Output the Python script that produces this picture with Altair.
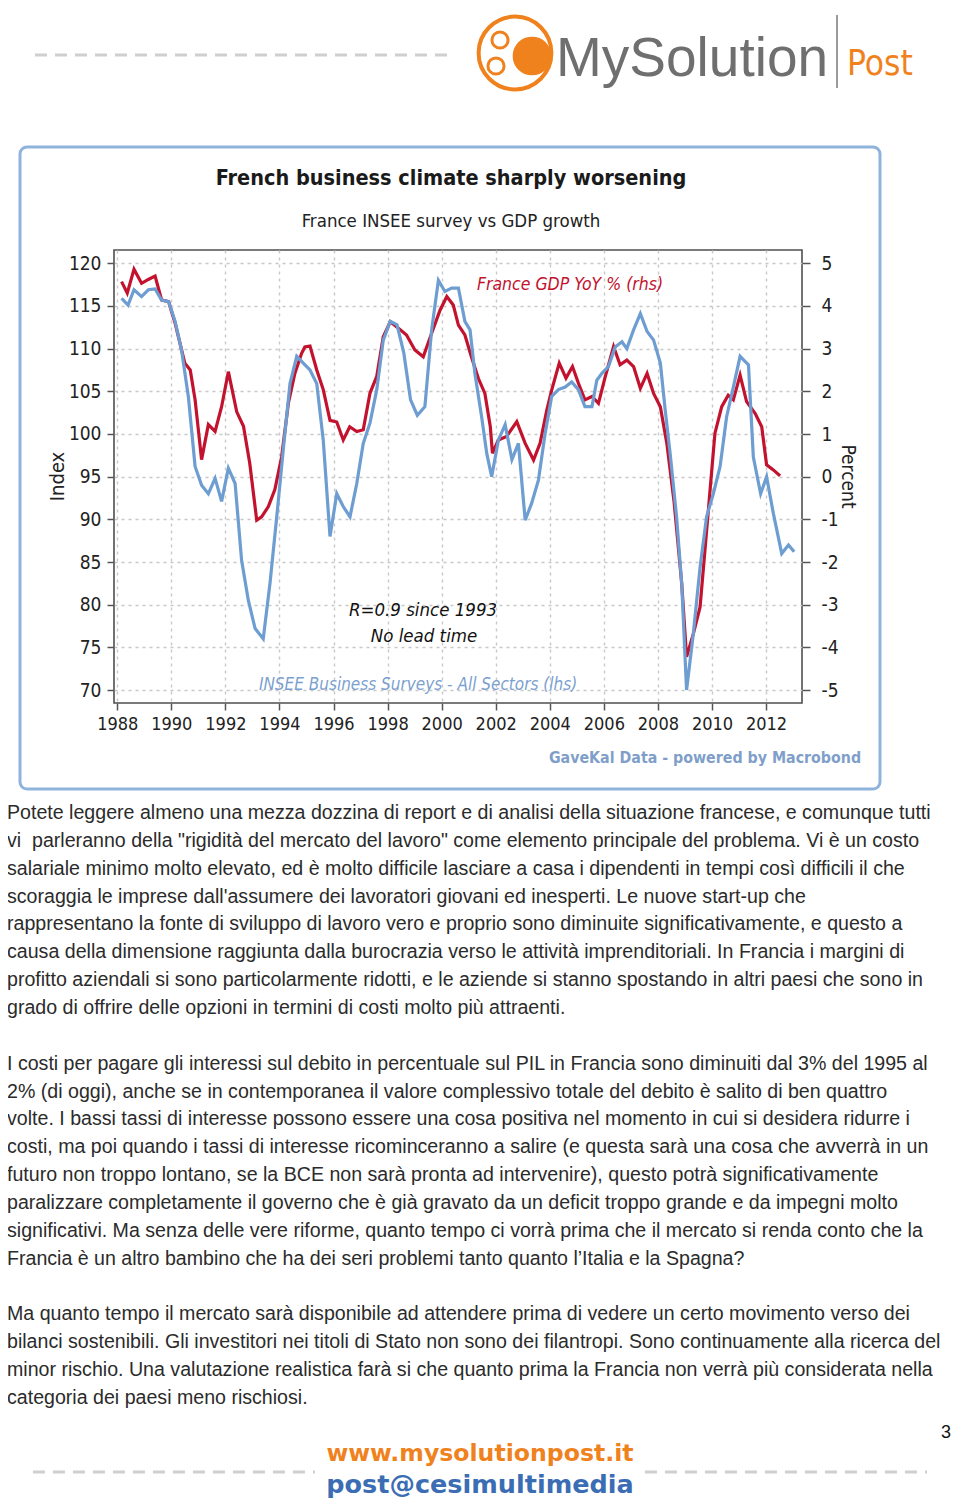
import altair as alt
import pandas as pd

# ---------------- data ----------------
insee_year = [1988.16, 1988.40, 1988.62, 1988.90, 1989.15, 1989.40, 1989.64, 1989.90,
              1990.14, 1990.38, 1990.63, 1990.88, 1991.12, 1991.37, 1991.62, 1991.86,
              1992.11, 1992.36, 1992.60, 1992.85, 1993.10, 1993.40, 1993.65, 1993.90,
              1994.14, 1994.39, 1994.64, 1994.88, 1995.13, 1995.38, 1995.62, 1995.87,
              1996.12, 1996.36, 1996.61, 1996.86, 1997.10, 1997.35, 1997.60, 1997.84,
              1998.10, 1998.35, 1998.60, 1998.85, 1999.10, 1999.38, 1999.63, 1999.88,
              2000.12, 2000.37, 2000.62, 2000.86, 2001.05, 2001.23, 2001.48, 2001.67,
              2001.85, 2002.10, 2002.35, 2002.60, 2002.84, 2003.09, 2003.33, 2003.58,
              2003.83, 2004.07, 2004.32, 2004.57, 2004.81, 2005.06, 2005.30, 2005.56,
              2005.74, 2005.93, 2006.17, 2006.42, 2006.67, 2006.85, 2007.10, 2007.35,
              2007.60, 2007.84, 2008.09, 2008.27, 2008.46, 2008.69, 2008.88, 2009.06,
              2009.31, 2009.56, 2009.80, 2010.05, 2010.30, 2010.54, 2010.79, 2011.04,
              2011.35, 2011.53, 2011.80, 2012.02, 2012.27, 2012.58, 2012.83, 2013.04]
insee_value = [115.9, 115.1, 116.9, 116.1, 116.9, 117.0, 115.7, 115.5,
               113.2, 109.8, 104.4, 96.2, 94.0, 93.0, 94.8, 92.1,
               96.0, 94.2, 85.2, 80.5, 77.2, 76.0, 82.5, 90.3,
               98.1, 105.9, 109.1, 108.3, 107.5, 105.9, 99.3, 88.0,
               93.0, 91.5, 90.3, 94.2, 98.9, 101.3, 105.2, 111.0,
               113.2, 112.8, 109.5, 104.0, 102.2, 103.2, 112.2, 118.0,
               116.7, 117.1, 117.1, 113.2, 112.2, 107.1, 102.0, 97.7,
               95.0, 99.3, 101.1, 97.0, 98.9, 89.9, 91.9, 94.6,
               100.1, 104.4, 105.2, 105.5, 106.1, 105.2, 103.2, 103.2,
               106.3, 107.1, 107.9, 110.2, 110.8, 110.0, 112.2, 114.1,
               112.0, 111.0, 108.3, 102.8, 97.5, 90.3, 82.5, 70.0,
               76.6, 84.4, 90.3, 93.0, 96.2, 102.0, 105.5, 109.1,
               108.1, 97.3, 93.0, 95.0, 90.7, 86.0, 87.0, 86.2]

gdp_year = [1988.16, 1988.37, 1988.62, 1988.90, 1989.15, 1989.40, 1989.64, 1989.90,
            1990.14, 1990.38, 1990.50, 1990.70, 1990.88, 1991.12, 1991.37, 1991.62,
            1991.86, 1992.11, 1992.42, 1992.67, 1992.90, 1993.16, 1993.34, 1993.59,
            1993.83, 1994.08, 1994.33, 1994.57, 1994.82, 1994.94, 1995.13, 1995.38,
            1995.62, 1995.87, 1996.12, 1996.36, 1996.60, 1996.86, 1997.10, 1997.35,
            1997.60, 1997.84, 1998.10, 1998.40, 1998.70, 1999.01, 1999.32, 1999.63,
            1999.94, 2000.19, 2000.43, 2000.62, 2000.86, 2001.10, 2001.36, 2001.60,
            2001.80, 2001.88, 2002.10, 2002.40, 2002.78, 2003.09, 2003.40, 2003.64,
            2003.89, 2004.07, 2004.35, 2004.60, 2004.84, 2005.06, 2005.30, 2005.56,
            2005.80, 2006.05, 2006.36, 2006.60, 2006.85, 2007.10, 2007.35, 2007.60,
            2007.84, 2008.09, 2008.33, 2008.60, 2008.88, 2009.06, 2009.31, 2009.56,
            2009.74, 2009.93, 2010.11, 2010.36, 2010.60, 2010.79, 2011.04, 2011.28,
            2011.60, 2011.84, 2012.02, 2012.27, 2012.52]
gdp_value = [4.57, 4.30, 4.86, 4.53, 4.62, 4.70, 4.14, 4.10,
             3.60, 2.97, 2.66, 2.50, 1.80, 0.40, 1.22, 1.06,
             1.64, 2.46, 1.52, 1.18, 0.32, -1.02, -0.94, -0.70,
             -0.30, 0.46, 1.72, 2.42, 2.89, 3.04, 3.06, 2.50,
             2.04, 1.32, 1.28, 0.86, 1.17, 1.06, 1.10, 1.96,
             2.35, 3.28, 3.63, 3.48, 3.32, 2.97, 2.81, 3.36,
             3.90, 4.22, 4.02, 3.55, 3.32, 2.81, 2.30, 1.95,
             1.17, 0.55, 0.86, 0.94, 1.29, 0.78, 0.39, 0.78,
             1.56, 2.03, 2.66, 2.31, 2.58, 2.19, 1.80, 1.88,
             1.72, 2.34, 3.05, 2.62, 2.73, 2.58, 2.07, 2.42,
             1.95, 1.64, 0.78, -0.60, -2.50, -4.22, -3.68, -3.05,
             -1.72, -0.31, 1.02, 1.64, 1.91, 1.80, 2.38, 1.76,
             1.48, 1.17, 0.28, 0.16, 0.02]

year_ticks = list(range(1988, 2013, 2))
index_ticks = list(range(70, 121, 5))
percent_ticks = list(range(-5, 6, 1))

chart_title = "French business climate sharply worsening"
chart_subtitle = "France INSEE survey vs GDP growth"
label_gdp = "France GDP YoY % (rhs)"
label_r = "R=0.9 since 1993"
label_lead = "No lead time"
label_insee = "INSEE Business Surveys - All Sectors (lhs)"
label_source = "GaveKal Data - powered by Macrobond"

para1 = [
    "Potete leggere almeno una mezza dozzina di report e di analisi della situazione francese, e comunque tutti",
    "vi\u00a0 parleranno della \"rigidità del mercato del lavoro\" come elemento principale del problema. Vi è un costo",
    "salariale minimo molto elevato, ed è molto difficile lasciare a casa i dipendenti in tempi così difficili il che",
    "scoraggia le imprese dall'assumere dei lavoratori giovani ed inesperti. Le nuove start-up che",
    "rappresentano la fonte di sviluppo di lavoro vero e proprio sono diminuite significativamente, e questo a",
    "causa della dimensione raggiunta dalla burocrazia verso le attività imprenditoriali. In Francia i margini di",
    "profitto aziendali si sono particolarmente ridotti, e le aziende si stanno spostando in altri paesi che sono in",
    "grado di offrire delle opzioni in termini di costi molto più attraenti.",
]
para2 = [
    "I costi per pagare gli interessi sul debito in percentuale sul PIL in Francia sono diminuiti dal 3% del 1995 al",
    "2% (di oggi), anche se in contemporanea il valore complessivo totale del debito è salito di ben quattro",
    "volte. I bassi tassi di interesse possono essere una cosa positiva nel momento in cui si desidera ridurre i",
    "costi, ma poi quando i tassi di interesse ricominceranno a salire (e questa sarà una cosa che avverrà in un",
    "futuro non troppo lontano, se la BCE non sarà pronta ad intervenire), questo potrà significativamente",
    "paralizzare completamente il governo che è già gravato da un deficit troppo grande e da impegni molto",
    "significativi. Ma senza delle vere riforme, quanto tempo ci vorrà prima che il mercato si renda conto che la",
    "Francia è un altro bambino che ha dei seri problemi tanto quanto l’Italia e la Spagna?",
]
para3 = [
    "Ma quanto tempo il mercato sarà disponibile ad attendere prima di vedere un certo movimento verso dei",
    "bilanci sostenibili. Gli investitori nei titoli di Stato non sono dei filantropi. Sono continuamente alla ricerca del",
    "minor rischio. Una valutazione realistica farà si che quanto prima la Francia non verrà più considerata nella",
    "categoria dei paesi meno rischiosi.",
]
brand = "MySolution"
brand_post = "Post"
footer_web = "www.mysolutionpost.it"
footer_mail = "post@cesimultimedia"
page_number = "3"

# ---------------- layout ----------------
OX, OY = 114, 250          # page position of plot origin
W, H = 688, 453            # plot area
TOTAL_H = 1493
CF = "DejaVu Sans Condensed, Liberation Sans Narrow, sans-serif"
BF = "Liberation Sans, Arial, sans-serif"
RED = "#c3122e"
BLUE = "#6d9dd1"
ORANGE = "#f0821e"


def T(text, X, Y, size, color="#222", weight="normal", style="normal",
      align="center", font=CF, baseline="middle"):
    return alt.Chart(pd.DataFrame({"t": [text]})).mark_text(
        fontSize=size, color=color, fontWeight=weight, fontStyle=style,
        align=align, baseline=baseline, font=font
    ).encode(x=alt.value(X - OX), y=alt.value(Y - OY), text="t:N")


def R(X1, Y1, X2, Y2, color, width, dash=None):
    kw = dict(color=color, strokeWidth=width)
    if dash:
        kw["strokeDash"] = dash
    return alt.Chart(pd.DataFrame({"a": [0]})).mark_rule(**kw).encode(
        x=alt.value(X1 - OX), x2=alt.value(X2 - OX),
        y=alt.value(Y1 - OY), y2=alt.value(Y2 - OY))


def P(X, Y, size, filled, width=3):
    kw = dict(shape="circle", size=size, filled=filled, color=ORANGE, opacity=1)
    if not filled:
        kw["strokeWidth"] = width
    return alt.Chart(pd.DataFrame({"a": [0]})).mark_point(**kw).encode(
        x=alt.value(X - OX), y=alt.value(Y - OY))


layers = []

# chart frame
layers.append(alt.Chart(pd.DataFrame({"a": [0]})).mark_rect(
    fill="white", fillOpacity=0, stroke="#8fb3dc", strokeWidth=3, cornerRadius=7
).encode(x=alt.value(20 - OX), x2=alt.value(880 - OX),
         y=alt.value(147 - OY), y2=alt.value(789 - OY)))

# header
layers.append(R(35, 55, 455, 55, "#cfcfcf", 3, [12, 8]))
layers.append(R(837, 15, 837, 88, "#9a9a9a", 2))
layers.append(P(515, 53, 5300, False, 4))
layers.append(P(532, 56, 1500, True))
layers.append(P(500, 40, 260, False))
layers.append(P(496, 66, 260, False))
layers.append(T(brand, 556, 76, 55, "#6f6f6f", align="left", font=BF, baseline="alphabetic"))
layers.append(T(brand_post, 847, 75, 35, ORANGE, align="left", font=CF, baseline="alphabetic"))

# chart titles and annotations
layers.append(T(chart_title, 451, 179, 21.5, "#1a1a1a", weight="bold"))
layers.append(T(chart_subtitle, 451, 221, 18.5, "#222"))
layers.append(T(label_gdp, 570, 285, 17.5, RED, style="italic"))
layers.append(T(label_r, 423, 610, 18.5, "#111", style="italic"))
layers.append(T(label_lead, 424, 636, 18.5, "#111", style="italic"))
layers.append(T(label_insee, 418, 685, 17, "#7b9fcf", style="italic"))
layers.append(T(label_source, 705, 758, 15.8, "#7f9fca", weight="bold"))

# body text
LINE = 27.85
BODY = 19.6
for i, line in enumerate(para1):
    layers.append(T(line, 7, 813 + i * LINE, BODY, "#2b2b2b", align="left", font=BF))
for i, line in enumerate(para2):
    layers.append(T(line, 7, 813 + (9 + i) * LINE, BODY, "#2b2b2b", align="left", font=BF))
for i, line in enumerate(para3):
    layers.append(T(line, 7, 813 + (18 + i) * LINE, BODY, "#2b2b2b", align="left", font=BF))

# footer
layers.append(T(page_number, 951, 1433, 18, "#111", font=BF, align="right"))
layers.append(R(33, 1472, 315, 1472, "#cfcfcf", 3, [12, 8]))
layers.append(R(645, 1472, 927, 1472, "#cfcfcf", 3, [12, 8]))
layers.append(T(footer_web, 480, 1461, 23.6, ORANGE, weight="bold",
                font="DejaVu Sans, sans-serif", baseline="alphabetic"))
layers.append(T(footer_mail, 480, 1493, 25.5, "#3b6db4", weight="bold",
                font="DejaVu Sans, sans-serif", baseline="alphabetic"))

# ---------------- data lines ----------------
xscale = alt.Scale(domain=[1987.88, 2013.33], nice=False, zero=False)
xaxis = alt.Axis(values=year_ticks, format="d", labelFontSize=18, labelFont=CF,
                 labelColor="#222", tickSize=7, tickColor="#555", tickWidth=1.5,
                 domain=False, grid=True, gridDash=[3, 4], gridColor="#c8c8c8",
                 gridWidth=1.4, labelPadding=5, title=None)

insee_df = pd.DataFrame({"year": insee_year, "v": insee_value})
gdp_df = pd.DataFrame({"year": gdp_year, "v": gdp_value})

red = alt.Chart(gdp_df).mark_line(color=RED, strokeWidth=3.2).encode(
    x=alt.X("year:Q", scale=xscale, axis=xaxis),
    y=alt.Y("v:Q", scale=alt.Scale(domain=[-5.30, 5.31], nice=False, zero=False),
            axis=alt.Axis(orient="right", values=percent_ticks, labelFontSize=19,
                          labelFont=CF, labelColor="#222", tickSize=8,
                          labelExpr="replace(datum.label, '\u2212', '-')",
                          tickColor="#555", tickWidth=1.5, domain=False, grid=False,
                          labelPadding=11, title="Percent", titleFont=CF,
                          titleFontSize=19, titleFontWeight="normal",
                          titleColor="#222", titleAngle=90, titleX=45, titleY=226,
                          titleAlign="center", titleBaseline="middle")))

blue = alt.Chart(insee_df).mark_line(color=BLUE, strokeWidth=3.2).encode(
    x=alt.X("year:Q", scale=xscale, axis=xaxis),
    y=alt.Y("v:Q", scale=alt.Scale(domain=[68.48, 121.56], nice=False, zero=False),
            axis=alt.Axis(orient="left", values=index_ticks, labelFontSize=19,
                          labelFont=CF, labelColor="#222", tickSize=7,
                          tickColor="#555", tickWidth=1.5, domain=False, grid=True,
                          gridDash=[3, 4], gridColor="#c8c8c8", gridWidth=1.4,
                          labelPadding=6, title="Index", titleFont=CF,
                          titleFontSize=20, titleFontWeight="normal",
                          titleColor="#222", titleAngle=270, titleX=-57, titleY=226,
                          titleAlign="center", titleBaseline="middle")))

chart = alt.layer(*layers, red, blue).resolve_scale(y="independent").properties(
    width=W, height=H,
    autosize=alt.AutoSizeParams(type="none"),
    padding={"left": OX - 8, "top": OY - 8, "right": 944 - (OX - 8) - W,
             "bottom": TOTAL_H - (OY - 8) - H},
    background="white",
).configure_view(stroke="#4f4f4f", strokeWidth=1.6)

chart.save("out.html", embed_options={"renderer": "svg", "actions": False})
